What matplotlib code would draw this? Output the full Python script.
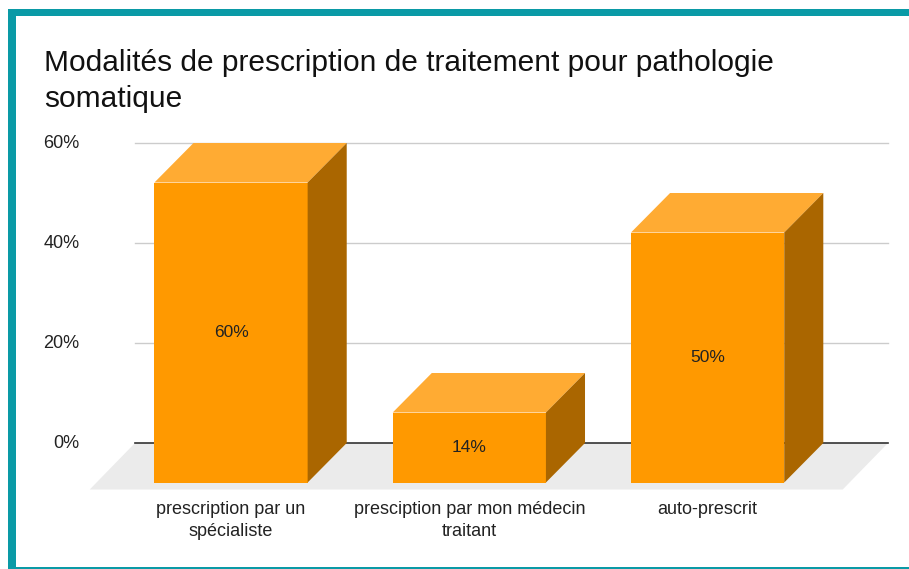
import matplotlib
matplotlib.use("Agg")
import matplotlib.pyplot as plt
from matplotlib.patches import Polygon, Rectangle

# data
categories = ["prescription par un\nspécialiste",
              "presciption par mon médecin\ntraitant",
              "auto-prescrit"]
values = [60, 14, 50]
value_labels = ["60%", "14%", "50%"]
yticks = [0, 20, 40, 60]
ytick_labels = ["0%", "20%", "40%", "60%"]

title = "Modalités de prescription de traitement pour pathologie\nsomatique"

# colours
front_col = "#FF9900"
top_col = "#FFAB33"
side_col = "#AA6600"
floor_col = "#EBEBEB"
grid_col = "#CCCCCC"
border_col = "#0A9AA6"

plt.rcParams['font.family'] = ['Liberation Sans', 'DejaVu Sans']

W, H = 909, 569
fig = plt.figure(figsize=(W / 100, H / 100), dpi=100)
fig.patch.set_facecolor("white")

# axes = back wall of the 3d plot
ax = fig.add_axes([135 / W, (H - 443) / H, (888 - 135) / W, 300 / H])
ax.set_xlim(-0.567, 2.593)
ax.set_ylim(0, 60)
ax.axis("off")

bar_w = 0.643   # category units
dx = 0.164      # depth, x units
dy = 7.9        # depth, y units (%)

# floor
x0, x1 = ax.get_xlim()
fdx, fdy = 0.19, 9.3
ax.add_patch(Polygon([(x0, 0), (x1, 0), (x1 - fdx, -fdy), (x0 - fdx, -fdy)],
                     closed=True, facecolor=floor_col, edgecolor="none",
                     clip_on=False, zorder=0))

# gridlines
for t, lab in zip(yticks, ytick_labels):
    ax.plot([x0, x1], [t, t], color="#333333" if t == 0 else grid_col,
            lw=1.2 if t == 0 else 1.0, zorder=1, clip_on=False)
    ax.text(-0.80, t, lab, ha="right", va="center", fontsize=13,
            color="#222222")

# bars
for i, (v, lab, cat) in enumerate(zip(values, value_labels, categories)):
    l, r = i - bar_w / 2, i + bar_w / 2
    # front face
    ax.add_patch(Rectangle((l - dx, -dy), bar_w, v, facecolor=front_col,
                           edgecolor="none", clip_on=False, zorder=3))
    # top
    ax.add_patch(Polygon([(l - dx, v - dy), (r - dx, v - dy), (r, v), (l, v)],
                         closed=True, facecolor=top_col, edgecolor="none",
                         clip_on=False, zorder=3))
    # side
    ax.add_patch(Polygon([(r - dx, v - dy), (r, v), (r, 0), (r - dx, -dy)],
                         closed=True, facecolor=side_col, edgecolor="none",
                         clip_on=False, zorder=3))
    ax.text(i - dx, v / 2 - dy, lab, ha="center", va="center",
            fontsize=12.5, color="#222222", zorder=4)
    ax.text(i - dx, -11.7, cat, ha="center", va="top", fontsize=13,
            color="#222222", linespacing=1.35)

fig.text(44 / W, 1 - 49 / H, title, ha="left", va="top", fontsize=21.5,
         color="#111111", linespacing=1.38)

# teal frame
tr = fig.transFigure
fig.add_artist(Rectangle((8 / W, 0), 8 / W, (H - 9) / H, transform=tr,
                         facecolor=border_col, edgecolor="none"))
fig.add_artist(Rectangle((8 / W, (H - 16) / H), (W - 8) / W, 7 / H,
                         transform=tr, facecolor=border_col, edgecolor="none"))
fig.add_artist(Rectangle((16 / W, 0), (W - 16) / W, 2.5 / H, transform=tr,
                         facecolor=border_col, edgecolor="none"))

fig.savefig("out.png", dpi=100)
